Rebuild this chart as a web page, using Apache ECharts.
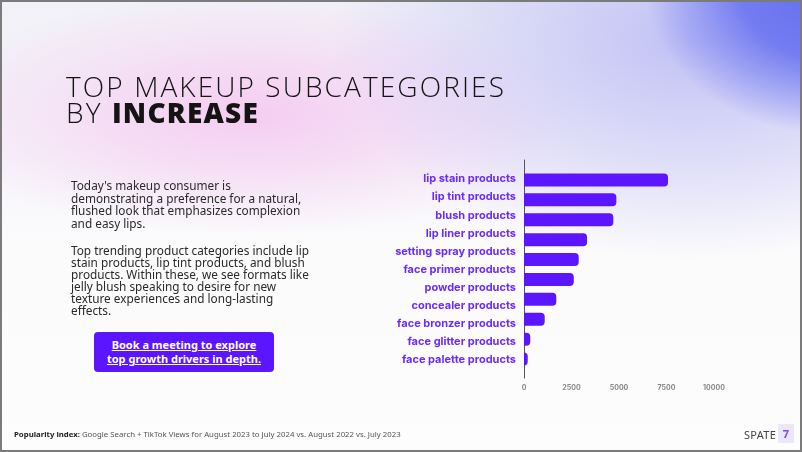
<!DOCTYPE html>
<html>
<head>
<meta charset="utf-8">
<script src="https://cdn.jsdelivr.net/npm/echarts@6/dist/echarts.min.js"></script>
<style>
html,body{margin:0;padding:0;}
body{width:802px;height:452px;overflow:hidden;position:relative;font-family:Inter,"Noto Sans",sans-serif;
background:
 radial-gradient(ellipse 190px 150px at 835px -15px, rgba(95,105,238,0.97) 0%, rgba(105,115,240,0.9) 50%, rgba(140,150,240,0) 100%),
 radial-gradient(ellipse 360px 220px at 690px 40px, rgba(185,185,245,0.85) 0%, rgba(210,210,248,0) 100%),
 radial-gradient(ellipse 330px 120px at 250px 115px, rgba(245,200,240,0.9) 0%, rgba(245,215,245,0) 100%),
 linear-gradient(180deg,#f1f1f7 0%,#f6f4fa 35%,#fbfbfc 55%,#fdfdfd 100%);}
#frame{position:absolute;left:0;top:0;width:798px;height:448px;border:2px solid #7b7b7b;pointer-events:none;z-index:5;}
#title{position:absolute;left:66px;top:73px;font-family:"Open Sans",sans-serif;font-weight:300;font-size:28px;line-height:26px;color:#141414;letter-spacing:2.1px;}
#title b{font-weight:800;letter-spacing:1.2px;}
#para{position:absolute;left:71px;top:179px;font-size:11.8px;color:#2a2a2a;font-family:"Noto Sans",sans-serif;white-space:nowrap;}
#para p{margin:0;}
#p1{line-height:12.7px;}
#p2{line-height:12px;margin-top:14.5px !important;}
#btn{position:absolute;left:94px;top:332px;width:180px;height:40px;background:#5b16ff;border-radius:4px;color:#fff;font-weight:700;font-size:11px;line-height:14px;text-align:center;text-decoration:underline;display:flex;align-items:center;justify-content:center;font-family:"Noto Sans",sans-serif;}
#foot{position:absolute;left:14px;top:429px;font-size:7.8px;color:#555;font-family:"Noto Sans",sans-serif;}
#foot b{color:#222;}
#spate{position:absolute;left:744px;top:427px;font-size:11px;color:#444;letter-spacing:0.3px;font-family:"Noto Sans",sans-serif;}
#pg{position:absolute;left:778px;top:424px;width:16px;height:19px;background:#ece6fb;color:#7a4cf0;font-weight:700;font-size:11px;text-align:center;line-height:19px;font-family:"Noto Sans",sans-serif;}
#chart{position:absolute;left:0;top:0;width:802px;height:452px;}
</style>
</head>
<body>
<div id="chart"></div>
<div id="title">TOP MAKEUP SUBCATEGORIES<br>BY <b>INCREASE</b></div>
<div id="para"><p id="p1">Today's makeup consumer is<br>demonstrating a preference for a natural,<br>flushed look that emphasizes complexion<br>and easy lips.</p><p id="p2">Top trending product categories include lip<br>stain products, lip tint products, and blush<br>products. Within these, we see formats like<br>jelly blush speaking to desire for new<br>texture experiences and long-lasting<br>effects.</p></div>
<div id="btn">Book a meeting to explore<br>top growth drivers in depth.</div>
<div id="foot"><b>Popularity index:</b> Google Search + TikTok Views for August 2023 to July 2024 vs. August 2022 vs. July 2023</div>
<div id="spate">SPATE</div>
<div id="pg">7</div>
<div id="frame"></div>
<script>
const categories = ["lip stain products","lip tint products","blush products","lip liner products","setting spray products","face primer products","powder products","concealer products","face bronzer products","face glitter products","face palette products"];
const barValues = [7580,4860,4700,3320,2880,2620,1700,1090,330,195];
const xTicks = [0,2500,5000,7500,10000];

const chart = echarts.init(document.getElementById('chart'), null, {renderer:'canvas'});
chart.setOption({
  backgroundColor:'transparent',
  animation:false,
  grid:[
    {left:524,right:88,top:160,bottom:74,containLabel:false},
    {left:524,right:88,top:170,height:199,containLabel:false}
  ],
  xAxis:[
    {gridIndex:0,type:'value',min:xTicks[0],max:xTicks[xTicks.length-1],interval:2500,
     axisLine:{show:false},axisTick:{show:false},splitLine:{show:false},
     axisLabel:{color:'#8a8a8a',fontSize:7,fontWeight:'bold',margin:6,fontFamily:'Inter',formatter:v=>String(v)}},
    {gridIndex:1,type:'value',min:xTicks[0],max:xTicks[xTicks.length-1],show:false}
  ],
  yAxis:[
    {gridIndex:0,type:'category',data:['a'],axisLine:{show:true,lineStyle:{color:'#555',width:1}},axisTick:{show:false},axisLabel:{show:false}},
    {gridIndex:1,type:'category',inverse:true,data:categories,axisLine:{show:false},axisTick:{show:false},
     axisLabel:{color:'#6a2cff',fontSize:11,fontWeight:'bold',margin:8,fontFamily:'Inter'}},
    {gridIndex:1,type:'category',inverse:true,data:barValues.map((v,i)=>String(i)),show:false}
  ],
  series:[{
    type:'bar',xAxisIndex:1,yAxisIndex:2,data:barValues,barWidth:13,
    itemStyle:{color:'#5b16ff',borderRadius:[0,4,4,0]}
  }]
});
</script>
</body>
</html>
